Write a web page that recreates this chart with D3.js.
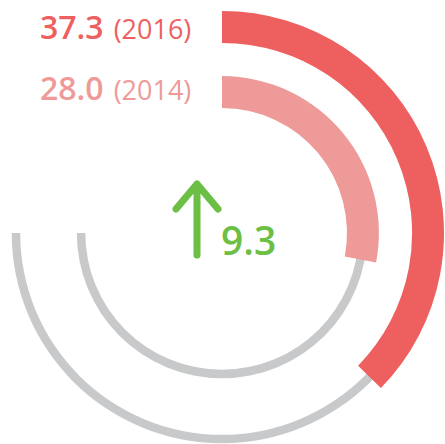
<!DOCTYPE html>
<html>
<head>
<meta charset="utf-8">
<script src="https://cdn.jsdelivr.net/npm/d3@7"></script>
<style>
  html, body { margin: 0; padding: 0; background: #fff; }
  svg { display: block; font-family: "Open Sans", "Noto Sans", sans-serif; }
</style>
</head>
<body>
<div id="chart"></div>
<script>
// Data
const years = ["2016", "2014"];
const values = [37.3, 28.0];
const trackMax = 75;      // grey track runs to 3/4 of the circle
const change = 9.3;

const barColors = ["#ee5f5f", "#ee9a98"];
const trackColor = "#c8c9cb";
const upColor = "#6cbf45";

const width = 445, height = 444;
const cx = 222, cy = 233;

const svg = d3.select("#chart")
    .append("svg")
    .attr("width", width)
    .attr("height", height);

const g = svg.append("g").attr("transform", `translate(${cx},${cy})`);

// value -> angle, 100 = full circle
const angle = d3.scaleLinear().domain([0, 100]).range([0, 2 * Math.PI]);

// ring radius per year (outer ring = latest year)
const radius = d3.scaleBand()
    .domain(years.slice().reverse())
    .range([125, 222])
    .paddingInner(0.51)
    .paddingOuter(0);

const trackWidth = 8.5;

// Grey tracks
g.selectAll(".track")
    .data(years)
    .join("path")
    .attr("class", "track")
    .attr("fill", trackColor)
    .attr("d", d => {
        const mid = radius(d) + radius.bandwidth() / 2;
        return d3.arc()({
            innerRadius: mid - trackWidth / 2,
            outerRadius: mid + trackWidth / 2,
            startAngle: angle(0),
            endAngle: angle(trackMax)
        });
    });

// Value bars
g.selectAll(".bar")
    .data(years)
    .join("path")
    .attr("class", "bar")
    .attr("fill", (d, i) => barColors[i])
    .attr("d", (d, i) => d3.arc()({
        innerRadius: radius(d),
        outerRadius: radius(d) + radius.bandwidth(),
        startAngle: angle(0),
        endAngle: angle(values[i])
    }));

// Labels left of each ring's start
const labels = svg.selectAll(".label")
    .data(years)
    .join("text")
    .attr("class", "label")
    .attr("x", 40)
    .attr("y", (d, i) => 39 + i * 61)
    .attr("fill", (d, i) => barColors[i]);

labels.append("tspan")
    .attr("font-size", 32)
    .attr("font-weight", 600)
    .text((d, i) => values[i].toFixed(1));

labels.append("tspan")
    .attr("font-size", 27)
    .attr("dx", 10)
    .text(d => `(${d})`);

// Change indicator
svg.append("path")
    .attr("d", "M197,255 L197,184 M176,209 L197,184 L218,209")
    .attr("fill", "none")
    .attr("stroke", upColor)
    .attr("stroke-width", 7)
    .attr("stroke-linecap", "round")
    .attr("stroke-linejoin", "round");

svg.append("text")
    .attr("x", 221)
    .attr("y", 255)
    .attr("fill", upColor)
    .attr("font-size", 39)
    .attr("font-weight", 600)
    .text(change.toFixed(1));
</script>
</body>
</html>
